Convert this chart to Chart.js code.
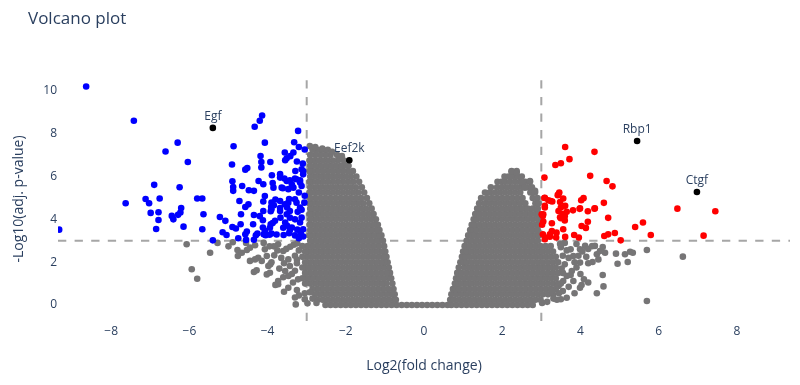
<!DOCTYPE html>
<html>
<head>
<meta charset="utf-8">
<title>Volcano plot</title>
<script src="https://cdn.jsdelivr.net/npm/chart.js@4.4.1/dist/chart.umd.min.js"></script>
<style>
  html, body { margin: 0; padding: 0; background: #fff; }
  #canvas { display: block; }
</style>
</head>
<body>
<canvas id="canvas" width="800" height="385"></canvas>
<script>
// thresholds used for the dashed guide lines
const fcCut = 3;
const pCut = 3;

const xTicks = [-8, -6, -4, -2, 0, 2, 4, 6, 8];
const yTicks = [0, 2, 4, 6, 8, 10];

// labelled genes
const geneNames = ['Egf', 'Eef2k', 'Rbp1', 'Ctgf'];
const genePts = [[-5.40, 8.27], [-1.91, 6.76], [5.45, 7.66], [6.98, 5.28]];

// significant, down (blue)
const downPts = [
  [-8.64,10.20],[-7.42,8.60],[-6.30,7.58],[-6.61,7.17],[-6.04,6.68],[-6.90,5.61],[-6.25,5.50],
  [-7.63,4.75],[-7.12,4.95],[-7.03,4.75],[-6.76,4.97],[-6.99,4.30],[-6.79,4.33],[-6.79,3.97],
  [-6.85,3.55],[-6.45,4.16],[-6.41,4.00],[-6.21,4.53],[-6.23,4.32],[-6.29,4.21],[-6.15,3.66],
  [-5.80,4.97],[-5.67,4.97],[-5.64,4.24],[-5.67,3.54],[-9.33,3.52],[-5.22,4.11],[-5.08,3.93],
  [-5.15,3.40],[-5.05,3.27],[-5.40,3.02],
  [-4.87,7.41],[-4.91,6.56],[-4.90,5.78],[-4.88,5.51],[-4.88,5.33],[-4.52,6.40],[-4.57,6.32],
  [-4.65,5.56],[-4.48,5.36],[-4.35,5.33],[-4.72,4.86],[-4.57,4.58],[-4.49,4.70],[-4.90,3.64],
  [-4.81,3.57],[-4.69,3.77],[-4.53,3.43],[-4.57,3.30],[-4.37,3.77],[-4.26,3.34],[-4.12,3.96],
  [-4.33,8.32],[-4.20,8.60],[-4.14,8.85],[-4.18,6.96],[-4.16,6.68],[-4.16,6.42],[-3.93,6.68],
  [-4.23,5.79],[-4.11,4.83],[-3.89,6.06],[-3.87,5.70],[-3.68,6.11],[-3.61,5.45],[-3.80,4.93],
  [-3.91,4.58],[-3.92,4.38],[-3.84,4.66],[-4.68,4.24],[-4.30,3.26],[-4.10,3.30],[-3.95,3.28],
  [-4.35,4.20],[-4.20,4.15],[-3.90,4.47],[-3.87,3.83],[-4.07,7.58],[-4.11,5.64],[-4.07,5.09],
  [-4.07,3.46],[-4.11,4.39],[-4.75,3.12],[-4.35,3.05],[-4.55,3.04],
  [-3.22,8.13],[-3.32,7.60],[-3.20,7.38],[-3.05,7.26],[-3.56,7.12],[-3.34,7.12],[-3.51,6.85],
  [-3.55,6.76],[-3.42,6.95],[-3.29,6.26],[-3.09,6.26],[-3.13,6.34],[-3.09,6.10],[-3.30,5.90],
  [-3.17,5.82],[-3.43,5.82],[-3.57,5.91],[-3.68,5.95],[-3.51,5.79],[-3.38,5.64],[-3.26,5.87],
  [-3.17,5.72],[-3.34,5.48],[-3.47,5.41],[-3.64,5.48],[-3.85,5.48],[-3.13,5.56],[-3.45,4.95],
  [-3.47,4.78],[-3.30,4.94],[-3.06,4.78],[-3.68,4.53],[-3.56,4.70],[-3.50,4.55],[-3.43,4.39],
  [-3.23,4.35],[-3.13,4.45],[-3.43,4.08],[-3.55,3.85],[-3.67,4.08],[-3.92,3.77],[-4.12,3.62],
  [-3.90,3.34],[-4.05,3.26],[-3.77,3.29],[-3.59,3.27],[-3.43,3.49],[-3.24,3.52],[-3.09,3.54],
  [-3.09,3.20],[-3.20,3.12],[-3.90,4.78],[-3.68,4.86],[-3.26,4.78],[-3.17,4.55],[-3.51,4.24],
  [-3.68,4.39],[-3.81,3.93],[-3.94,3.61],[-3.60,3.61],[-3.17,3.85],[-3.13,4.08],[-3.30,4.00],
  [-3.30,3.25],[-3.45,3.35],[-3.15,3.35],[-3.50,3.70],[-3.38,3.62],[-3.05,5.10],[-3.20,5.25],
  [-3.10,6.60],[-3.25,6.70]
];

// significant, up (red)
const upPts = [
  [3.61,7.38],[4.36,7.15],[3.72,6.81],[3.50,6.62],[3.36,6.54],[3.08,5.95],[4.25,6.03],[4.67,5.79],
  [4.82,5.54],[6.48,4.50],[7.45,4.38],[7.15,3.24],[5.80,3.27],[5.60,3.85],[5.40,3.64],[5.03,3.02],
  [4.88,3.36],[4.71,3.30],[4.61,3.22],[4.71,4.07],[4.60,4.77],[4.36,4.50],[4.19,4.38],[4.19,3.89],
  [4.14,3.60],[4.03,3.69],[4.08,4.99],[4.02,4.89],[3.98,4.49],[3.81,4.42],[3.96,3.15],[3.84,3.27],
  [3.61,3.18],[3.56,3.54],[3.39,3.38],[3.38,3.15],[3.22,3.19],[3.10,3.15],[3.04,3.30],[3.60,4.15],
  [3.65,4.35],[3.55,4.25],[3.50,4.05],[3.46,5.25],[3.42,5.13],[3.56,4.97],[3.48,4.81],[3.50,4.55],
  [3.61,4.63],[3.44,4.39],[3.09,5.01],[3.18,4.89],[3.28,4.83],[3.09,4.55],[3.04,4.16],[3.02,3.75],
  [3.05,3.90],[3.27,3.82],[3.01,4.24],[3.09,4.63],[3.24,4.86],[3.44,5.17],[3.48,4.10],[3.60,3.95],
  [3.99,4.52],[4.37,4.52],[3.27,3.45],[3.22,3.30],[3.09,3.07],[3.08,5.00],[3.05,4.24]
];

// not significant (grey): dense core, one row per y level, then x values
const greyCoreLeft = [
  [0.00, -0.70,-0.83,-0.96,-1.09,-1.22,-1.35,-1.48,-1.61,-1.74,-1.87,-2.00,-2.13,-2.26,-2.39,-2.52],
  [0.25, -0.72,-0.77,-0.90,-1.03,-1.16,-1.29,-1.42,-1.55,-1.68,-1.81,-1.94,-2.07,-2.20,-2.33,-2.46,-2.59,-2.72],
  [0.50, -0.75,-0.83,-0.96,-1.09,-1.22,-1.35,-1.48,-1.61,-1.74,-1.87,-2.00,-2.13,-2.26,-2.39,-2.52,-2.65,-2.78],
  [0.75, -0.78,-0.90,-1.03,-1.16,-1.29,-1.42,-1.55,-1.68,-1.81,-1.94,-2.07,-2.20,-2.33,-2.46,-2.59,-2.72,-2.85],
  [1.00, -0.81,-0.96,-1.09,-1.22,-1.35,-1.48,-1.61,-1.74,-1.87,-2.00,-2.13,-2.26,-2.39,-2.52,-2.65,-2.78,-2.91,-3.04],
  [1.25, -0.84,-0.90,-1.03,-1.16,-1.29,-1.42,-1.55,-1.68,-1.81,-1.94,-2.07,-2.20,-2.33,-2.46,-2.59,-2.72,-2.85,-2.98,-3.11],
  [1.50, -0.87,-0.96,-1.09,-1.22,-1.35,-1.48,-1.61,-1.74,-1.87,-2.00,-2.13,-2.26,-2.39,-2.52,-2.65,-2.78,-2.91,-3.04],
  [1.75, -0.90,-1.03,-1.16,-1.29,-1.42,-1.55,-1.68,-1.81,-1.94,-2.07,-2.20,-2.33,-2.46,-2.59,-2.72,-2.85,-2.98,-3.11],
  [2.00, -0.93,-1.01,-1.09,-1.22,-1.35,-1.48,-1.61,-1.74,-1.87,-2.00,-2.13,-2.26,-2.39,-2.52,-2.65,-2.78,-2.91,-3.04],
  [2.25, -0.96,-1.03,-1.16,-1.29,-1.42,-1.55,-1.68,-1.81,-1.94,-2.07,-2.20,-2.33,-2.46,-2.59,-2.72,-2.85,-2.98,-3.11],
  [2.50, -0.99,-1.09,-1.22,-1.35,-1.48,-1.61,-1.74,-1.87,-2.00,-2.13,-2.26,-2.39,-2.52,-2.65,-2.78,-2.91,-3.04],
  [2.75, -1.02,-1.16,-1.29,-1.42,-1.55,-1.68,-1.81,-1.94,-2.07,-2.20,-2.33,-2.46,-2.59,-2.72,-2.85,-2.98,-3.11],
  [3.00, -1.05,-1.13,-1.22,-1.35,-1.48,-1.61,-1.74,-1.87,-2.00,-2.13,-2.26,-2.39,-2.52,-2.65,-2.78,-2.91],
  [3.25, -1.09,-1.16,-1.29,-1.42,-1.55,-1.68,-1.81,-1.94,-2.07,-2.20,-2.33,-2.46,-2.59,-2.72,-2.85,-2.93],
  [3.50, -1.14,-1.22,-1.35,-1.48,-1.61,-1.74,-1.87,-2.00,-2.13,-2.26,-2.39,-2.52,-2.65,-2.78,-2.91],
  [3.75, -1.18,-1.29,-1.42,-1.55,-1.68,-1.81,-1.94,-2.07,-2.20,-2.33,-2.46,-2.59,-2.72,-2.85,-2.93],
  [4.00, -1.23,-1.35,-1.48,-1.61,-1.74,-1.87,-2.00,-2.13,-2.26,-2.39,-2.52,-2.65,-2.78,-2.91],
  [4.25, -1.29,-1.42,-1.55,-1.68,-1.81,-1.94,-2.07,-2.20,-2.33,-2.46,-2.59,-2.72,-2.85,-2.93],
  [4.50, -1.34,-1.48,-1.61,-1.74,-1.87,-2.00,-2.13,-2.26,-2.39,-2.52,-2.65,-2.78,-2.91],
  [4.75, -1.40,-1.55,-1.68,-1.81,-1.94,-2.07,-2.20,-2.33,-2.46,-2.59,-2.72,-2.85,-2.93],
  [5.00, -1.46,-1.61,-1.74,-1.87,-2.00,-2.13,-2.26,-2.39,-2.52,-2.65,-2.78,-2.91],
  [5.25, -1.53,-1.68,-1.81,-1.94,-2.07,-2.20,-2.33,-2.46,-2.59,-2.72,-2.85,-2.93],
  [5.50, -1.59,-1.74,-1.87,-2.00,-2.13,-2.26,-2.39,-2.52,-2.65,-2.78,-2.91],
  [5.75, -1.66,-1.81,-1.94,-2.07,-2.20,-2.33,-2.46,-2.59,-2.72,-2.85,-2.93],
  [6.00, -1.73,-1.87,-2.00,-2.13,-2.26,-2.39,-2.52,-2.65,-2.78,-2.91],
  [6.25, -1.82,-1.94,-2.07,-2.20,-2.33,-2.46,-2.59,-2.72,-2.85,-2.93],
  [6.50, -1.93,-2.03,-2.13,-2.26,-2.39,-2.52,-2.65,-2.78,-2.91],
  [6.75, -2.05,-2.20,-2.33,-2.46,-2.59,-2.72,-2.85,-2.93],
  [7.00, -2.22,-2.39,-2.52,-2.65,-2.78,-2.91],
  [7.25, -2.46,-2.59,-2.72,-2.85]
];

const greyCoreRight = [
  [0.00, 0.70,0.83,0.96,1.09,1.22,1.35,1.48,1.61,1.74,1.87,2.00,2.13,2.26,2.39,2.52,2.65,2.78],
  [0.25, 0.67,0.77,0.90,1.03,1.16,1.29,1.42,1.55,1.68,1.81,1.94,2.07,2.20,2.33,2.46,2.59,2.72,2.85,2.98],
  [0.50, 0.70,0.83,0.96,1.09,1.22,1.35,1.48,1.61,1.74,1.87,2.00,2.13,2.26,2.39,2.52,2.65,2.78,2.91,3.04,3.17,3.30],
  [0.75, 0.74,0.82,0.90,1.03,1.16,1.29,1.42,1.55,1.68,1.81,1.94,2.07,2.20,2.33,2.46,2.59,2.72,2.85,2.98,3.11,3.24,3.37],
  [1.00, 0.79,0.88,0.96,1.09,1.22,1.35,1.48,1.61,1.74,1.87,2.00,2.13,2.26,2.39,2.52,2.65,2.78,2.91,3.04,3.17,3.30,3.43],
  [1.25, 0.82,0.90,1.03,1.16,1.29,1.42,1.55,1.68,1.81,1.94,2.07,2.20,2.33,2.46,2.59,2.72,2.85,2.98,3.11,3.24,3.37],
  [1.50, 0.85,0.96,1.09,1.22,1.35,1.48,1.61,1.74,1.87,2.00,2.13,2.26,2.39,2.52,2.65,2.78,2.91,3.04,3.17,3.30,3.43],
  [1.75, 0.89,1.03,1.16,1.29,1.42,1.55,1.68,1.81,1.94,2.07,2.20,2.33,2.46,2.59,2.72,2.85,2.98,3.11,3.24,3.37],
  [2.00, 0.93,1.01,1.09,1.22,1.35,1.48,1.61,1.74,1.87,2.00,2.13,2.26,2.39,2.52,2.65,2.78,2.91,3.04,3.17,3.30,3.43],
  [2.25, 0.97,1.06,1.16,1.29,1.42,1.55,1.68,1.81,1.94,2.07,2.20,2.33,2.46,2.59,2.72,2.85,2.98,3.11,3.24,3.37],
  [2.50, 1.00,1.09,1.22,1.35,1.48,1.61,1.74,1.87,2.00,2.13,2.26,2.39,2.52,2.65,2.78,2.91,3.04,3.17,3.30],
  [2.75, 1.04,1.16,1.29,1.42,1.55,1.68,1.81,1.94,2.07,2.20,2.33,2.46,2.59,2.72,2.85,2.98,3.11,3.24],
  [3.00, 1.09,1.22,1.35,1.48,1.61,1.74,1.87,2.00,2.13,2.26,2.39,2.52,2.65,2.78,2.91],
  [3.25, 1.13,1.21,1.29,1.42,1.55,1.68,1.81,1.94,2.07,2.20,2.33,2.46,2.59,2.72,2.85,2.93],
  [3.50, 1.18,1.27,1.35,1.48,1.61,1.74,1.87,2.00,2.13,2.26,2.39,2.52,2.65,2.78,2.91],
  [3.75, 1.22,1.29,1.42,1.55,1.68,1.81,1.94,2.07,2.20,2.33,2.46,2.59,2.72,2.85,2.93],
  [4.00, 1.27,1.35,1.48,1.61,1.74,1.87,2.00,2.13,2.26,2.39,2.52,2.65,2.78,2.91],
  [4.25, 1.31,1.42,1.55,1.68,1.81,1.94,2.07,2.20,2.33,2.46,2.59,2.72,2.85,2.93],
  [4.50, 1.36,1.48,1.61,1.74,1.87,2.00,2.13,2.26,2.39,2.52,2.65,2.78,2.91],
  [4.75, 1.41,1.55,1.68,1.81,1.94,2.07,2.20,2.33,2.46,2.59,2.85,2.93],
  [5.00, 1.46,1.61,1.74,1.87,2.00,2.13,2.26,2.39,2.52,2.78,2.90],
  [5.25, 1.56,1.68,1.81,1.94,2.07,2.20,2.33,2.46,2.72,2.84],
  [5.50, 1.71,1.87,2.00,2.13,2.26,2.39,2.52,2.65,2.76],
  [5.75, 1.88,1.98,2.07,2.20,2.33,2.46,2.59,2.71],
  [6.00, 2.06,2.16,2.26,2.39,2.50],
  [6.25, 2.24,2.37]
];

// genes with adj. p = 1 in the middle
const greyBaseline = [
  [0.00, -0.57,-0.44,-0.31,-0.18,-0.05,0.08,0.21,0.34,0.47,0.60]
];

// scattered grey points outside the core
const greyScatter = [
  [-6.07,2.84],[-5.47,2.44],[-5.94,1.67],[-5.80,1.23],[-5.28,2.90],[-5.00,2.74],[-4.89,2.93],
  [-4.77,2.57],[-4.76,2.29],[-4.66,2.44],[-4.53,2.57],[-4.45,2.68],[-4.32,2.79],[-4.55,2.90],
  [-4.10,2.90],[-4.24,2.21],[-4.07,2.60],[-4.02,2.29],[-4.32,2.13],[-4.15,2.06],[-4.45,2.06],
  [-4.35,1.54],[-4.28,1.62],[-3.98,1.82],[-4.02,1.43],[-3.93,1.90],[-3.94,1.51],[-3.73,2.84],
  [-3.84,2.74],[-3.95,2.74],[-3.83,2.32],[-3.75,2.55],[-3.60,2.52],[-3.52,2.62],[-3.42,2.72],
  [-3.33,2.82],[-3.24,2.88],[-3.20,2.55],[-3.65,2.20],[-3.47,2.13],[-3.30,2.30],[-3.25,2.12],
  [-3.90,2.00],[-3.58,1.95],[-3.43,1.82],[-3.25,1.95],[-3.70,1.70],[-3.55,1.59],[-3.30,1.60],
  [-3.47,1.36],[-3.38,1.45],[-3.60,1.30],[-3.22,1.20],[-3.73,1.12],[-3.73,0.97],[-3.80,0.94],
  [-3.35,1.05],[-3.47,0.81],[-3.25,0.70],[-3.58,0.62],[-3.20,0.45],[-3.05,0.55],[-3.30,0.35],
  [-3.05,0.27],[-3.28,0.03],[-2.98,0.08],[-2.85,0.30],[-2.75,0.10],[-2.92,0.60],
  [-2.92,7.42],[-2.78,7.38],[-2.60,7.30],[-2.35,7.15],[-2.10,6.95],
  [5.70,2.57],[6.62,2.26],[5.70,0.19],[4.91,2.40],[4.95,1.93],[5.14,2.37],[5.27,2.49],[5.21,2.01],
  [5.34,2.44],[4.57,2.71],[4.63,2.44],[4.42,2.37],[4.46,2.13],[4.31,2.01],[4.50,2.52],[4.37,2.76],
  [4.12,2.76],[3.99,2.60],[3.82,2.29],[3.99,1.98],[3.78,1.59],[3.65,1.36],[3.56,1.12],[3.82,1.12],
  [3.99,0.81],[3.44,0.89],[3.27,0.65],[4.57,1.40],[4.59,0.87],[4.42,0.55],[4.03,0.93],[4.09,1.20],
  [3.65,0.34],[3.50,0.27],[3.31,0.30],[3.02,0.10],[3.15,0.15],[3.90,1.75],[3.95,2.30],[4.05,2.50],
  [4.20,2.62],[4.30,2.75],[3.90,2.85],[3.75,2.60],[3.70,2.20],[3.60,2.90],[3.60,1.90],[3.55,1.50],
  [3.50,1.00],[3.70,0.85],[3.55,0.65],[3.55,2.30],[3.50,2.70],[3.75,1.40],[4.00,1.45],[3.85,0.55],
  [3.45,0.55],[4.20,1.05],[4.20,1.95],[4.15,2.25],[3.85,2.00],[3.65,2.55],[3.48,2.85],[3.52,1.70],
  [3.40,0.25],
  [2.24,6.23],[2.37,6.18],[2.50,5.72],[2.71,5.79],[2.58,5.48],[2.84,5.33]
];

const textColor = '#2a3f5f';
const fontFamily = "'Open Sans', 'DejaVu Sans', sans-serif";

function rowsToPoints(rows) {
    const pts = [];
    rows.forEach(r => {
        const y = r[0];
        r.slice(1).forEach(x => pts.push({x: x, y: y}));
    });
    return pts;
}
function pairsToPoints(list) {
    return list.map(p => ({x: p[0], y: p[1]}));
}

const greyData = rowsToPoints(greyCoreLeft)
    .concat(rowsToPoints(greyCoreRight))
    .concat(rowsToPoints(greyBaseline))
    .concat(pairsToPoints(greyScatter));

function minusSign(v) {
    return String(v).replace('-', '\u2212');
}

// dashed threshold lines, gene labels and titles
const overlay = {
    id: 'overlay',
    beforeDatasetsDraw(chart) {
        const ctx = chart.ctx;
        const a = chart.chartArea;
        const xs = chart.scales.x, ys = chart.scales.y;
        ctx.save();
        ctx.strokeStyle = 'rgba(128,128,128,0.7)';
        ctx.lineWidth = 2;
        ctx.setLineDash([8.3, 8.3]);
        [-fcCut, fcCut].forEach(v => {
            const px = xs.getPixelForValue(v);
            ctx.beginPath();
            ctx.moveTo(px, a.bottom);
            ctx.lineTo(px, a.top);
            ctx.stroke();
        });
        const py = ys.getPixelForValue(pCut);
        ctx.beginPath();
        ctx.moveTo(a.left, py);
        ctx.lineTo(a.right, py);
        ctx.stroke();
        ctx.restore();
    },
    afterDatasetsDraw(chart) {
        const ctx = chart.ctx;
        const xs = chart.scales.x, ys = chart.scales.y;
        ctx.save();
        ctx.fillStyle = textColor;
        ctx.font = '12px ' + fontFamily;
        ctx.textAlign = 'center';
        ctx.textBaseline = 'middle';
        genePts.forEach((p, i) => {
            ctx.fillText(geneNames[i], xs.getPixelForValue(p[0]), ys.getPixelForValue(p[1]) - 11.5);
        });
        ctx.restore();
    },
    afterDraw(chart) {
        const ctx = chart.ctx;
        const a = chart.chartArea;
        ctx.save();
        ctx.fillStyle = textColor;
        ctx.font = '17px ' + fontFamily;
        ctx.textAlign = 'left';
        ctx.textBaseline = 'alphabetic';
        ctx.fillText('Volcano plot', 28, 23.5);

        ctx.font = '14px ' + fontFamily;
        ctx.textAlign = 'center';
        ctx.textBaseline = 'middle';
        ctx.fillText('Log2(fold change)', (a.left + a.right) / 2, 366);

        ctx.translate(19, (a.top + a.bottom) / 2);
        ctx.rotate(-Math.PI / 2);
        ctx.fillText('-Log10(adj. p-value)', 0, 0);
        ctx.restore();
    }
};

const pointStyle = {pointRadius: 3.3, pointHoverRadius: 3.3, pointBorderWidth: 0, clip: 0};

const ctx = document.getElementById('canvas').getContext('2d');
const myChart = new Chart(ctx, {
    type: 'scatter',
    data: {
        datasets: [
            Object.assign({label: 'labelled', data: pairsToPoints(genePts), backgroundColor: '#000000', order: 1}, pointStyle),
            Object.assign({label: 'up', data: pairsToPoints(upPts), backgroundColor: '#ff0000', order: 2}, pointStyle),
            Object.assign({label: 'down', data: pairsToPoints(downPts), backgroundColor: '#0000ff', order: 2}, pointStyle),
            Object.assign({label: 'ns', data: greyData, backgroundColor: 'rgb(118,117,118)', order: 3}, pointStyle)
        ]
    },
    options: {
        responsive: false,
        animation: false,
        devicePixelRatio: 1,
        layout: {autoPadding: false, padding: {left: 0, right: 10, top: 77, bottom: 0}},
        plugins: {legend: {display: false}, tooltip: {enabled: false}, title: {display: false}},
        events: [],
        scales: {
            x: {
                type: 'linear',
                min: -9.36,
                max: 9.36,
                grid: {display: false, drawTicks: false},
                border: {display: false},
                afterFit: s => { s.height = 64; },
                afterBuildTicks: s => { s.ticks = xTicks.map(v => ({value: v})); },
                ticks: {
                    color: textColor,
                    font: {family: fontFamily, size: 12},
                    padding: 3,
                    maxRotation: 0,
                    callback: v => minusSign(v)
                }
            },
            y: {
                type: 'linear',
                min: -0.745,
                max: 10.645,
                grid: {display: false, drawTicks: false},
                border: {display: false},
                afterFit: s => { s.width = 58; },
                afterBuildTicks: s => { s.ticks = yTicks.map(v => ({value: v})); },
                ticks: {
                    color: textColor,
                    font: {family: fontFamily, size: 12},
                    padding: 1,
                    callback: v => minusSign(v)
                }
            }
        }
    },
    plugins: [overlay]
});
</script>
</body>
</html>
